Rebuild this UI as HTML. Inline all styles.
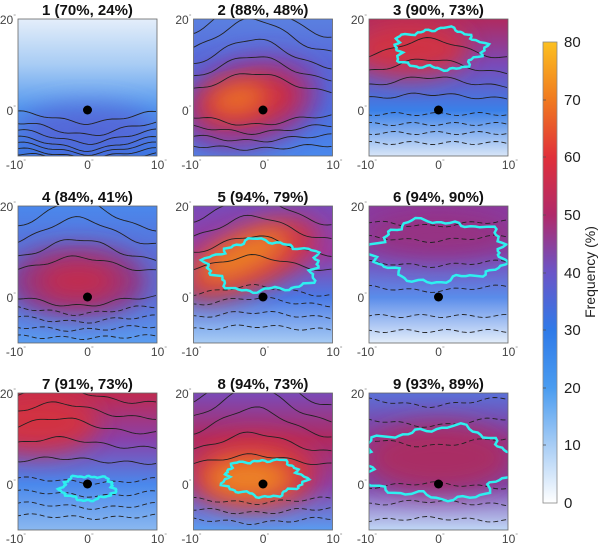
<!DOCTYPE html>
<html><head><meta charset="utf-8">
<style>
html,body{margin:0;padding:0;background:#fff;}
svg{display:block;font-family:"Liberation Sans",sans-serif;}
</style></head>
<body>
<svg id="s" width="605" height="549" viewBox="0 0 605 549" xmlns="http://www.w3.org/2000/svg">
<defs>
<filter id="b" x="-50%" y="-50%" width="200%" height="200%"><feGaussianBlur stdDeviation="12"/></filter>
<linearGradient id="cb" x1="0" y1="1" x2="0" y2="0">
<stop offset="0" stop-color="#ffffff"/>
<stop offset="0.125" stop-color="#a8cdf5"/>
<stop offset="0.25" stop-color="#4a9cf0"/>
<stop offset="0.375" stop-color="#2f7ae8"/>
<stop offset="0.5" stop-color="#6a55c8"/>
<stop offset="0.625" stop-color="#b02a6a"/>
<stop offset="0.75" stop-color="#e0303a"/>
<stop offset="0.875" stop-color="#f07a20"/>
<stop offset="1" stop-color="#fcc020"/>
</linearGradient>
<clipPath id="pc"><rect x="0" y="0" width="139" height="137"/></clipPath>
</defs>
<g id="panels"></g>
<rect x="543" y="42" width="14" height="461" fill="url(#cb)" stroke="#888" stroke-width="0.8"/>
<g font-size="15" fill="#222">
<text x="564" y="508">0</text>
<text x="564" y="450">10</text>
<text x="564" y="393">20</text>
<text x="564" y="335">30</text>
<text x="564" y="278">40</text>
<text x="564" y="220">50</text>
<text x="564" y="162">60</text>
<text x="564" y="105">70</text>
<text x="564" y="47">80</text>
</g>
<g stroke="#555" stroke-width="0.8">
<line x1="543" y1="445" x2="546" y2="445"/><line x1="543" y1="388" x2="546" y2="388"/>
<line x1="543" y1="330" x2="546" y2="330"/><line x1="543" y1="273" x2="546" y2="273"/>
<line x1="543" y1="215" x2="546" y2="215"/><line x1="543" y1="157" x2="546" y2="157"/>
<line x1="543" y1="100" x2="546" y2="100"/>
</g>
<text x="595" y="272" font-size="14" fill="#222" text-anchor="middle" transform="rotate(-90 595 272)">Frequency (%)</text>
</svg>
<script>
const NS="http://www.w3.org/2000/svg";
const X=[18,193.5,369],Y=[19,206,393];
const titles=["1 (70%, 24%)","2 (88%, 48%)","3 (90%, 73%)","4 (84%, 41%)","5 (94%, 79%)","6 (94%, 90%)","7 (91%, 73%)","8 (94%, 73%)","9 (93%, 89%)"];
const P=[
 {bg:["#e4eefa","#a8ccf4","#5096ee","#3a78e4"],bl:[[70,110,70,25,"#5a5ad0",0.7,0]],lines:[[92,12,70,0],[102,14,70,0],[110,14,70,0],[117,14,70,0],[123,12,70,0],[129,10,70,0],[134,8,70,0]],cy:false},
 {bg:["#5a80e0","#5868d8","#4a70e0","#4a88ec"],bl:[[55,85,75,45,"#8a3aa0",0.9,-15],[55,82,55,28,"#d02a40",0.95,-10],[45,80,30,15,"#f07a20",0.9,-10]],lines:[[20,-40,60,0],[35,-35,60,0],[50,-30,60,0],[62,-25,60,0],[74,-20,60,0],[96,10,60,0],[106,8,60,0],[116,6,60,0],[126,4,60,0]],cy:false},
 {bg:["#b02a60","#7a4ab8","#3a80e8","#d8e6f8"],bl:[[40,30,60,28,"#d8303a",0.9,0]],lines:[[40,-20,60,0],[55,-15,60,0],[68,-10,60,0],[80,-5,60,0],[95,0,60,1],[105,0,60,1],[114,0,60,1],[124,0,60,1]],cy:true},
 {bg:["#4a88ec","#5a70d8","#5a70d8","#5a9cf0"],bl:[[60,75,70,35,"#a02a70",0.85,0],[60,75,40,18,"#d02a40",0.8,0]],lines:[[25,-30,60,0],[40,-28,60,0],[55,-22,60,0],[66,-15,60,0],[90,10,60,0],[100,8,60,1],[110,6,60,1],[120,4,60,1],[130,2,60,1]],cy:false},
 {bg:["#7a4ab8","#9a3aa0","#4a7ae6","#a8ccf4"],bl:[[55,55,75,30,"#d8303a",0.9,-25],[50,50,50,18,"#f08a20",0.9,-25]],lines:[[20,-30,60,0],[35,-25,60,0],[50,-20,60,0],[65,-15,60,0],[90,-10,60,1],[100,-8,60,1],[112,-6,60,1],[124,-4,60,1]],cy:true},
 {bg:["#8a3aa0","#7a4ab8","#5a8cea","#e4eefa"],bl:[[70,30,80,25,"#a02a70",0.7,0]],lines:[[15,5,60,1],[30,5,60,1],[55,5,60,1],[80,5,60,1],[110,0,60,1],[125,0,60,1]],cy:true},
 {bg:["#c02a50","#8a40a8","#4a88ec","#8ab8f0"],bl:[[20,30,60,30,"#d8303a",0.9,0]],lines:[[10,-15,40,0],[25,-15,40,0],[40,-15,40,0],[55,-10,40,0],[70,-5,40,0],[85,5,80,1],[98,5,80,1],[110,5,80,1],[122,3,80,1]],cy:true},
 {bg:["#7a4ab8","#b02a60","#8a40a8","#5a9cf0"],bl:[[60,80,65,35,"#d8303a",0.9,0],[55,85,45,20,"#f08a20",0.95,0]],lines:[[15,-40,60,0],[30,-35,60,0],[45,-30,60,0],[60,-20,60,0],[72,-10,60,0],[105,5,60,1],[115,5,60,1],[125,5,60,1]],cy:true},
 {bg:["#5a70d8","#8a3a9a","#7a48b0","#c0d8f6"],bl:[[70,65,75,35,"#b02a5a",0.85,0]],lines:[[5,8,60,1],[25,8,60,1],[45,8,60,1],[95,-5,60,1],[112,-4,60,1],[128,-3,60,1]],cy:true}
];
const root=document.getElementById("panels");
function el(t,a,p){const e=document.createElementNS(NS,t);for(const k in a)e.setAttribute(k,a[k]);(p||root).appendChild(e);return e;}
P.forEach((p,i)=>{
 const ox=X[i%3],oy=Y[Math.floor(i/3)];
 const g=el("g",{transform:`translate(${ox},${oy})`});
 const gid="g"+i;
 const lg=el("linearGradient",{id:gid,x1:0,y1:0,x2:0,y2:1},document.querySelector("defs"));
 p.bg.forEach((c,k)=>el("stop",{offset:k/(p.bg.length-1),"stop-color":c},lg));
 const cg=el("g",{"clip-path":"url(#pc)"},g);
 el("rect",{x:0,y:0,width:139,height:137,fill:`url(#${gid})`},cg);
 p.bl.forEach(b=>el("ellipse",{cx:b[0],cy:b[1],rx:b[2],ry:b[3],fill:b[4],opacity:b[5],filter:"url(#b)",transform:`rotate(${b[6]} ${b[0]} ${b[1]})`},cg));
 p.lines.forEach(l=>{
   let d="";
   for(let x=-2;x<=141;x+=4){
     const t=(x-l[2])/45;
     const y=l[0]+l[1]*Math.exp(-t*t)+1.5*Math.sin(x*0.15+l[0]);
     d+=(d?"L":"M")+x.toFixed(1)+" "+y.toFixed(1);
   }
   el("path",{d,fill:"none",stroke:"#222","stroke-width":0.9,"stroke-dasharray":l[3]?"5 3":"none"},cg);
 });
 if(p.cy){
   let d="";
   const base={2:[30,20],4:[60,25],5:[45,30],6:[95,12],7:[85,18],8:[70,35]}[i]||[60,30];
   for(let k=0;k<=90;k++){
     const a=k/90*Math.PI*2;
     const r=1+0.08*Math.sin(a*5+i)+0.06*Math.sin(a*11+2*i)+0.04*Math.sin(a*23);
     const x=70+base[1]*2.2*r*Math.cos(a), y=base[0]+base[1]*r*Math.sin(a);
     d+=(k?"L":"M")+x.toFixed(1)+" "+y.toFixed(1);
   }
   el("path",{d:d+"Z",fill:"none",stroke:"#2ef0f0","stroke-width":2.5},cg);
 }
 el("circle",{cx:69.5,cy:91,r:4.5,fill:"#000"},g);
 el("rect",{x:0,y:0,width:139,height:137,fill:"none",stroke:"#666","stroke-width":0.8},g);
 el("text",{x:69.5,y:-4,"text-anchor":"middle","font-size":15,"font-weight":"bold",fill:"#111"},g).textContent=titles[i];
 const lt=(x,y,s,a)=>{const t=el("text",{x,y,"text-anchor":a,"font-size":12,fill:"#444"},g);t.textContent=s;const d=el("tspan",{"font-size":7,dy:-5,fill:"#999"},t);d.textContent="°";};
 lt(-2,5,"20","end");lt(-2,96,"0","end");
 lt(-2,150,"-10","middle");lt(71,150,"0","middle");lt(141,150,"10","middle");
});
</script>
</body></html>
